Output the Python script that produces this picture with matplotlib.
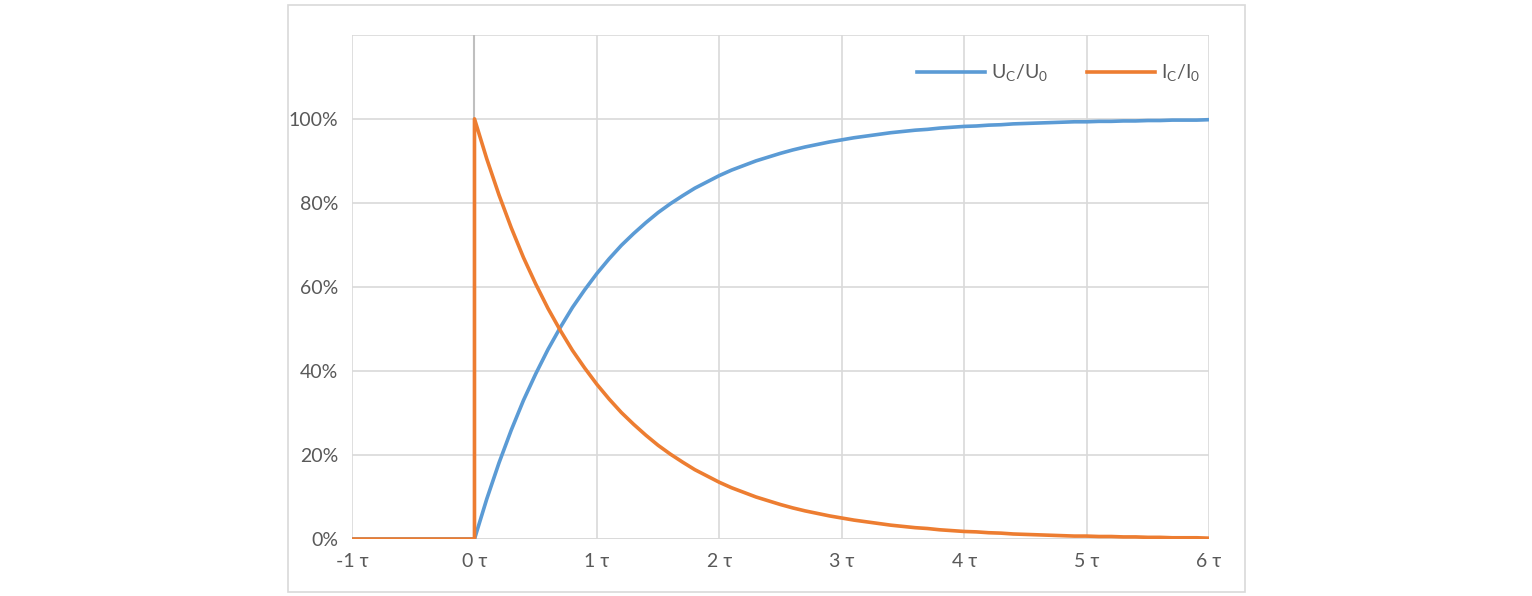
import matplotlib
matplotlib.use('Agg')
import matplotlib.pyplot as plt
from matplotlib.patches import Rectangle
from matplotlib.ticker import FuncFormatter

plt.rcParams['font.family'] = ['Lato', 'DejaVu Sans']

# 时间轴 (单位 τ)
t_neg = [-1.0, 0.0]
t_pos = [round(0.1 * i, 1) for i in range(1, 61)]

uc = [0.095, 0.181, 0.259, 0.330, 0.393, 0.451, 0.503, 0.551, 0.593, 0.632,
      0.667, 0.699, 0.727, 0.753, 0.777, 0.798, 0.817, 0.835, 0.850, 0.865,
      0.878, 0.889, 0.900, 0.909, 0.918, 0.926, 0.933, 0.939, 0.945, 0.950,
      0.955, 0.959, 0.963, 0.967, 0.970, 0.973, 0.975, 0.978, 0.980, 0.982,
      0.983, 0.985, 0.986, 0.988, 0.989, 0.990, 0.991, 0.992, 0.993, 0.993,
      0.994, 0.994, 0.995, 0.995, 0.996, 0.996, 0.997, 0.997, 0.997, 0.998]
ic = [0.905, 0.819, 0.741, 0.670, 0.607, 0.549, 0.497, 0.449, 0.407, 0.368,
      0.333, 0.301, 0.273, 0.247, 0.223, 0.202, 0.183, 0.165, 0.150, 0.135,
      0.122, 0.111, 0.100, 0.091, 0.082, 0.074, 0.067, 0.061, 0.055, 0.050,
      0.045, 0.041, 0.037, 0.033, 0.030, 0.027, 0.025, 0.022, 0.020, 0.018,
      0.017, 0.015, 0.014, 0.012, 0.011, 0.010, 0.009, 0.008, 0.007, 0.007,
      0.006, 0.006, 0.005, 0.005, 0.004, 0.004, 0.003, 0.003, 0.003, 0.002]

x_uc = t_neg + t_pos
y_uc = [0.0, 0.0] + uc
x_ic = t_neg + [0.0] + t_pos
y_ic = [0.0, 0.0, 1.0] + ic

fig = plt.figure(figsize=(15.32, 5.96), dpi=100)
fig.patches.append(Rectangle((0.188, 0.0067), 0.6247, 0.985, transform=fig.transFigure,
                             fill=False, edgecolor='#D9D9D9', lw=1.2))
ax = fig.add_axes([0.2298, 0.0956, 0.5594, 0.846])

ax.plot(x_uc, y_uc, color='#5B9BD5', lw=2.6, label='U$_\\mathregular{C}$/U$_\\mathregular{0}$')
ax.plot(x_ic, y_ic, color='#ED7D31', lw=2.6, label='I$_\\mathregular{C}$/I$_\\mathregular{0}$')

ax.set_xlim(-1, 6)
ax.set_ylim(0, 1.2)
ax.set_xticks(range(-1, 7))
ax.xaxis.set_major_formatter(FuncFormatter(lambda v, p: f'{int(v)} τ'))
ax.set_yticks([0, 0.2, 0.4, 0.6, 0.8, 1.0, 1.2])
ax.yaxis.set_major_formatter(FuncFormatter(lambda v, p: '' if v > 1.05 else f'{v*100:.0f}%'))
ax.grid(True, color='#D9D9D9', lw=1.2)
ax.axvline(0, color='#BFBFBF', lw=1.5, zorder=1)
for s in ax.spines.values():
    s.set_visible(False)
ax.axhline(0, color='#D9D9D9', lw=1.2, zorder=1)
ax.tick_params(length=0, labelsize=14, labelcolor='#595959', pad=10)
ax.set_axisbelow(True)

ax.legend(loc='upper right', bbox_to_anchor=(1.01, 0.98), ncol=2, frameon=False,
          fontsize=14, labelcolor='#595959', handlelength=3.5, handletextpad=0.3,
          columnspacing=2)

fig.savefig('out.png')
